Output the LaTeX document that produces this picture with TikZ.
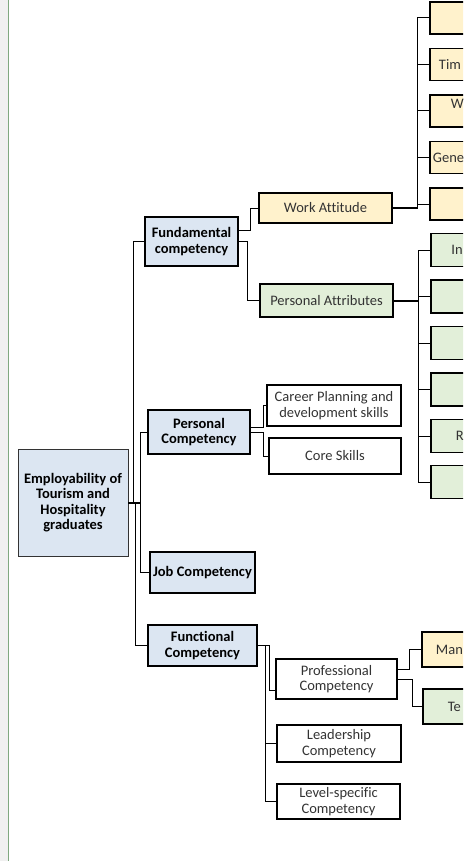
\documentclass[tikz,border=0pt]{standalone}
\usepackage{fontspec}
\setmainfont{Carlito}[Ligatures=NoCommon]
\definecolor{boxblue}{HTML}{DCE6F2}
\definecolor{boxyellow}{HTML}{FFF2CC}
\definecolor{boxgreen}{HTML}{E2EFD9}
\definecolor{textgray}{HTML}{333333}
\definecolor{bandgray}{HTML}{F0F0F0}
\definecolor{bandgreen}{HTML}{7FA87F}
\begin{document}
\begin{tikzpicture}[x=1pt, y=-1pt]
      \tikzstyle{every node}=[draw, line width=1.9pt, inner sep=0pt, align=center,
        text=textgray, font=\fontsize{14.5}{15.5}\selectfont]
      \tikzstyle{blue box}=[fill=boxblue, text=black,
        font=\fontsize{14.5}{15.5}\selectfont\bfseries]
      \tikzstyle{yellow box}=[fill=boxyellow]
      \tikzstyle{green box}=[fill=boxgreen]
      \tikzstyle{cut text}=[draw=none, anchor=base west]
      \tikzstyle{link}=[line width=1pt]
      \tikzstyle{bus}=[line width=2pt]

      \useasboundingbox (0,0) rectangle (463,861);
      \clip (0,0) rectangle (463,861);
      \fill[bandgray] (0,0) rectangle (8,861);
      \draw[bandgreen, line width=1.4pt] (8.7,0) -- (8.7,861);

      % root and first level
      \path (73,502.5) node[blue box, line width=0.8pt, draw=textgray,
        minimum width=110pt, minimum height=107pt] (root)
        {Employability of\\Tourism and\\Hospitality\\graduates};
      \path (191.5,241.5) node[blue box, minimum width=93pt, minimum height=49pt]
        (fund) {Fundamental\\competency};
      \path (199,432) node[blue box, minimum width=102pt, minimum height=44pt]
        (pers) {Personal\\Competency};
      \path (202.5,572.5) node[blue box, minimum width=105pt, minimum height=41pt]
        (job) {Job Competency};
      \path (202.5,645.5) node[blue box, minimum width=109pt, minimum height=41pt]
        (func) {Functional\\Competency};

      % second level
      \path (325.5,208) node[yellow box, minimum width=133pt, minimum height=30pt]
        (wa) {Work Attitude};
      \path (326.5,300.5) node[green box, minimum width=133pt, minimum height=33pt]
        (pa) {Personal Attributes};
      \path (334,405.5) node[minimum width=134pt, minimum height=41pt]
        (career) {Career Planning and\\development skills};
      \path (335,456) node[minimum width=132pt, minimum height=36pt]
        (core) {Core Skills};
      \path (336.5,679) node[minimum width=121pt, minimum height=40pt]
        (prof) {Professional\\Competency};
      \path (339,743.5) node[minimum width=124pt, minimum height=37pt]
        (lead) {Leadership\\Competency};
      \path (338.5,801.5) node[minimum width=123pt, minimum height=35pt]
        (level) {Level-specific\\Competency};

      % third level, cut at the right edge
      \foreach \i/\yc in {1/18, 2/64.5, 3/111, 4/157.5, 5/204}
      {
        \path (470,\yc) node[yellow box, minimum width=80pt, minimum height=32pt] (wa\i) {};
      }
      \foreach \i/\yc in {1/250, 2/296.5, 3/343, 4/389.5, 5/436, 6/482}
      {
        \path (471,\yc) node[green box, minimum width=80pt, minimum height=33pt] (pa\i) {};
      }
      \path (462,649.5) node[yellow box, minimum width=80pt, minimum height=35pt] (man) {};
      \path (463,706.5) node[green box, minimum width=80pt, minimum height=35pt] (te) {};

      \path (438,69.2) node[cut text] (wa2txt) {Tim};
      \path (450,108.5) node[cut text] (wa3txt) {W};
      \path (432,162.2) node[cut text] (wa4txt) {Gene};
      \path (450.5,254.7) node[cut text] (pa1txt) {In};
      \path (455,440.7) node[cut text] (pa5txt) {R};
      \path (435,654.2) node[cut text] (mantxt) {Man};
      \path (447,711.2) node[cut text] (tetxt) {Te};

      % connectors
      \draw[bus] (root.east) -- ++(12pt,0);
      \draw[link]
        (root.east) -- ++(5pt,0) |- (fund.west)
        (root.east) -- ++(12pt,0) |- (pers.west)
        (root.east) -- ++(12pt,0) |- (job.west)
        (root.east) -- ++(7pt,0) |- (func.west);

      \draw[link]
        ([yshift=11.5pt]fund.east) -- ++(12pt,0) |- (wa.west)
        (fund.east) -- ++(9pt,0) |- (pa.west)
        ([yshift=5pt]pers.east) -- ++(13pt,0) |- (career.west)
        (pers.east) -- ++(13pt,0) |- (core.west)
        (func.east) -- ++(12pt,0) |- ([yshift=-11pt]prof.west)
        (func.east) -- ++(8pt,0) |- (lead.west)
        (func.east) -- ++(8pt,0) |- (level.west)
        ([yshift=10pt]prof.east) -- ++(12pt,0) |- (man.west)
        (prof.east) -- ++(15pt,0) |- (te.west);

      \draw[bus] (wa.east) -- ++(25pt,0) coordinate (wabus);
      \draw[bus] (pa.east) -- ++(25pt,0) coordinate (pabus);
      \foreach \i in {1, ..., 5}
      {
        \draw[link] (wabus) |- (wa\i.west);
      }
      \foreach \i in {1, ..., 6}
      {
        \draw[link] (pabus) |- (pa\i.west);
      }
    \end{tikzpicture}
\end{document}
